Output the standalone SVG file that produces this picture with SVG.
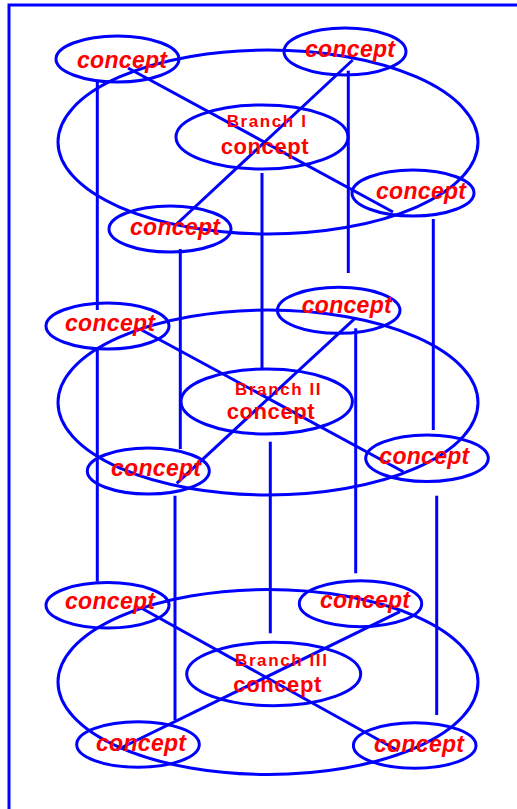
<svg xmlns="http://www.w3.org/2000/svg" width="517" height="809" viewBox="0 0 517 809">
<style>
.s{fill:none;stroke:#0000ff;stroke-width:3}
.c{font-family:"Liberation Sans",Arial,sans-serif;font-weight:bold;font-style:italic;font-size:23px;letter-spacing:0.3px;fill:#ff0000}
.b{font-family:"Liberation Sans",Arial,sans-serif;font-weight:bold;font-size:17px;letter-spacing:1.6px;fill:#ff0000}
.m{font-family:"Liberation Sans",Arial,sans-serif;font-weight:bold;font-size:22px;letter-spacing:0.6px;fill:#ff0000}
</style>
<rect width="517" height="809" fill="#ffffff"/>
<g id="frame" class="s">
<path d="M9,809 V5 H517"/>
</g>
<g id="rings" class="s">
<ellipse cx="268" cy="142" rx="210" ry="92"/>
<ellipse cx="268" cy="402.5" rx="210" ry="92.5"/>
<ellipse cx="268" cy="682" rx="210" ry="92.5"/>
</g>
<g id="connectors" class="s">
<line x1="128" y1="68" x2="393" y2="212"/>
<line x1="352.7" y1="60" x2="176.7" y2="224"/>
<line x1="97.3" y1="81" x2="97.3" y2="310"/>
<line x1="180.3" y1="249" x2="180.3" y2="449"/>
<line x1="262" y1="173" x2="262" y2="369"/>
<line x1="348.3" y1="70.7" x2="348.3" y2="273"/>
<line x1="433.3" y1="219" x2="433.3" y2="430"/>
<line x1="141.7" y1="330" x2="403.3" y2="471.7"/>
<line x1="355" y1="318.3" x2="176.7" y2="483.3"/>
<line x1="97.3" y1="350" x2="97.3" y2="581.7"/>
<line x1="175" y1="495.7" x2="175" y2="720"/>
<line x1="270.3" y1="441.7" x2="270.3" y2="633.3"/>
<line x1="355.7" y1="328.3" x2="355.7" y2="573.3"/>
<line x1="436.7" y1="495.7" x2="436.7" y2="715"/>
<line x1="141.7" y1="608.3" x2="398.3" y2="750.7"/>
<line x1="400" y1="611.7" x2="116.7" y2="750"/>
</g>
<g id="branch1"><ellipse class="s" cx="262" cy="137" rx="86" ry="32"/><text class="b" x="226.7" y="126.7">Branch I</text><text class="m" x="220.7" y="154">concept</text></g>
<g id="c1a"><ellipse class="s" cx="117.5" cy="59" rx="61.5" ry="23"/><text class="c" x="77" y="68">concept</text></g>
<g id="c1b"><ellipse class="s" cx="345" cy="51.5" rx="61" ry="23.5"/><text class="c" x="305" y="57">concept</text></g>
<g id="c1c"><ellipse class="s" cx="413" cy="193" rx="61" ry="23"/><text class="c" x="376" y="199.3">concept</text></g>
<g id="c1d"><ellipse class="s" cx="170" cy="229" rx="61" ry="23"/><text class="c" x="130" y="235">concept</text></g>
<g id="branch2"><ellipse class="s" cx="266.7" cy="401.5" rx="85.7" ry="32.5"/><text class="b" x="235" y="395.3">Branch II</text><text class="m" x="226.7" y="419">concept</text></g>
<g id="c2a"><ellipse class="s" cx="107.5" cy="326" rx="61.5" ry="23"/><text class="c" x="65" y="331">concept</text></g>
<g id="c2b"><ellipse class="s" cx="338.7" cy="310.3" rx="61.3" ry="23"/><text class="c" x="301.7" y="312.7">concept</text></g>
<g id="c2c"><ellipse class="s" cx="427" cy="458.3" rx="61.3" ry="23.3"/><text class="c" x="379.3" y="464.3">concept</text></g>
<g id="c2d"><ellipse class="s" cx="148.3" cy="471" rx="61" ry="23"/><text class="c" x="111" y="475.7">concept</text></g>
<g id="branch3"><ellipse class="s" cx="273.7" cy="674" rx="87" ry="31.7"/><text class="b" x="235" y="665.7">Branch III</text><text class="m" x="233.3" y="691.7">concept</text></g>
<g id="c3a"><ellipse class="s" cx="107.5" cy="605.3" rx="61.5" ry="22.7"/><text class="c" x="65" y="609.3">concept</text></g>
<g id="c3b"><ellipse class="s" cx="360.5" cy="603.7" rx="61.2" ry="23"/><text class="c" x="320" y="608.3">concept</text></g>
<g id="c3c"><ellipse class="s" cx="138" cy="744.5" rx="61.3" ry="22.8"/><text class="c" x="96" y="750.7">concept</text></g>
<g id="c3d"><ellipse class="s" cx="414.7" cy="745.5" rx="61.3" ry="22.8"/><text class="c" x="374" y="751.7">concept</text></g>
</svg>
